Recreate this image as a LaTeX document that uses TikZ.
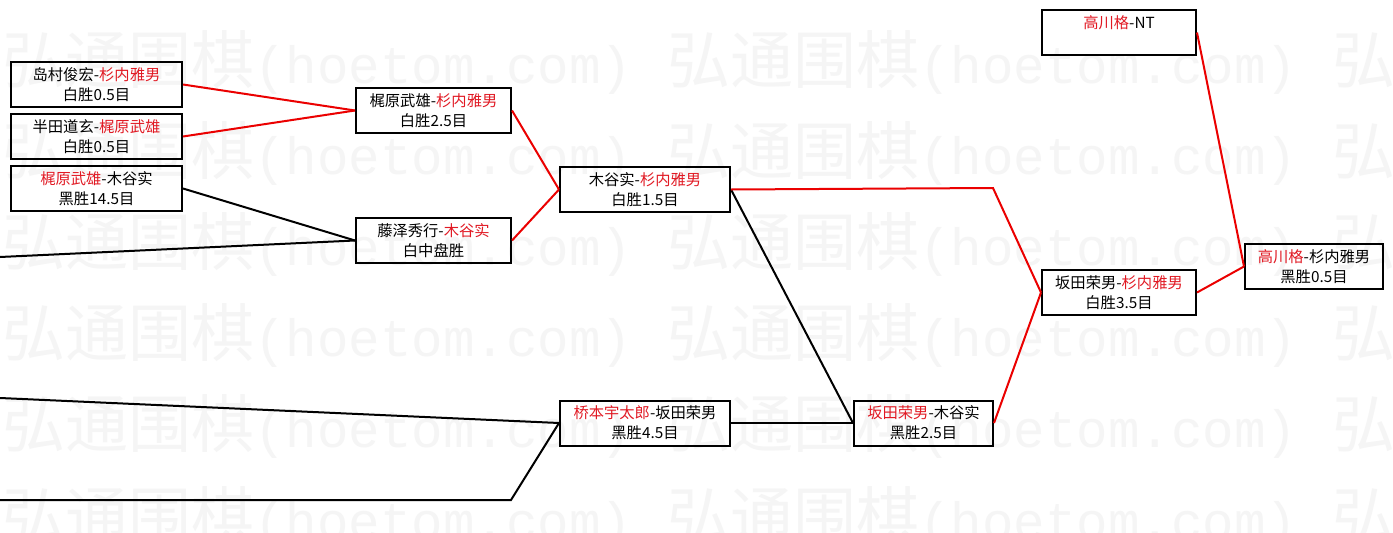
\documentclass[tikz,border=0pt]{standalone}
\usepackage{fontspec}
\newfontfamily\cjk{Noto Sans CJK SC}
\newfontfamily\wmlat{Liberation Mono}
\definecolor{wred}{RGB}{235,0,0}
\definecolor{tred}{RGB}{225,25,35}
\definecolor{wmgray}{RGB}{245,245,245}
\newcommand\rd[1]{\textcolor{tred}{#1}}
\tikzset{
  box/.style={draw, line width=2pt, rectangle, inner sep=0pt, align=center,
    font=\cjk\fontsize{15.3}{20}\selectfont, minimum height=45pt},
  win/.style={draw=wred, line width=2pt, line join=miter},
  lose/.style={draw=black, line width=2pt, line join=miter},
  wm/.style={inner sep=0pt, anchor=west, text=wmgray}
}
\begin{document}
\begin{tikzpicture}[x=1pt, y=-1pt]
\useasboundingbox (0,0) rectangle (1393,533);
\clip (0,0) rectangle (1393,533);
\fill[white] (0,0) rectangle (1393,533);
% watermark
\foreach \r in {0,...,5}{
  \foreach \k in {0,1,2}{
    \node[wm] (wm-\r-\k) at ({2+665*\k},{62+91.2*\r})
      {{\cjk\fontsize{63}{63}\selectfont 弘通围棋}{\wmlat\fontsize{52.5}{63}\selectfont (hoetom.com)}};
  }
}
% boxes
\node[box, minimum width=171pt] (b1) at (96.5,84.5) {岛村俊宏-\rd{杉内雅男}\\白胜0.5目};
\node[box, minimum width=171pt] (b2) at (96.5,136.5) {半田道玄-\rd{梶原武雄}\\白胜0.5目};
\node[box, minimum width=171pt] (b3) at (96.5,188.5) {\rd{梶原武雄}-木谷实\\黑胜14.5目};
\node[box, minimum width=155pt] (b4) at (433.5,110.5) {梶原武雄-\rd{杉内雅男}\\白胜2.5目};
\node[box, minimum width=155pt] (b5) at (433.5,240.5) {藤泽秀行-\rd{木谷实}\\白中盘胜};
\node[box, minimum width=170pt] (b6) at (645,189.5) {木谷实-\rd{杉内雅男}\\白胜1.5目};
\node[box, minimum width=170pt] (b7) at (645,423) {\rd{桥本宇太郎}-坂田荣男\\黑胜4.5目};
\node[box, minimum width=139pt] (b8) at (923.5,423) {\rd{坂田荣男}-木谷实\\黑胜2.5目};
\node[box, minimum width=154pt] (b9) at (1119,32.5) {\rd{高川格}-NT\\\phantom{高}};
\node[box, minimum width=154pt] (b10) at (1119,292.5) {坂田荣男-\rd{杉内雅男}\\白胜3.5目};
\node[box, minimum width=138pt] (b11) at (1314,266.5) {\rd{高川格}-杉内雅男\\黑胜0.5目};
% free ends and bends
\coordinate (f1) at (0,257);
\coordinate (f2) at (0,398);
\coordinate (f3) at (0,500);
\coordinate (e2) at (511,500);
\coordinate (e1) at (993,188);
% connectors
\draw[win] (b1.east) -- (b4.west);
\draw[win] (b2.east) -- (b4.west);
\draw[lose] (b3.east) -- (b5.west);
\draw[lose] (f1) -- (b5.west);
\draw[win] (b4.east) -- (b6.west);
\draw[win] (b5.east) -- (b6.west);
\draw[lose] (f2) -- (b7.west);
\draw[lose] (f3) -- (e2) -- (b7.west);
\draw[lose] (b7.east) -- (b8.west);
\draw[lose] (b6.east) -- (b8.west);
\draw[win] (b6.east) -- (e1) -- (b10.west);
\draw[win] (b8.east) -- (b10.west);
\draw[win] (b10.east) -- (b11.west);
\draw[win] (b9.east) -- (b11.west);
\end{tikzpicture}
\end{document}
